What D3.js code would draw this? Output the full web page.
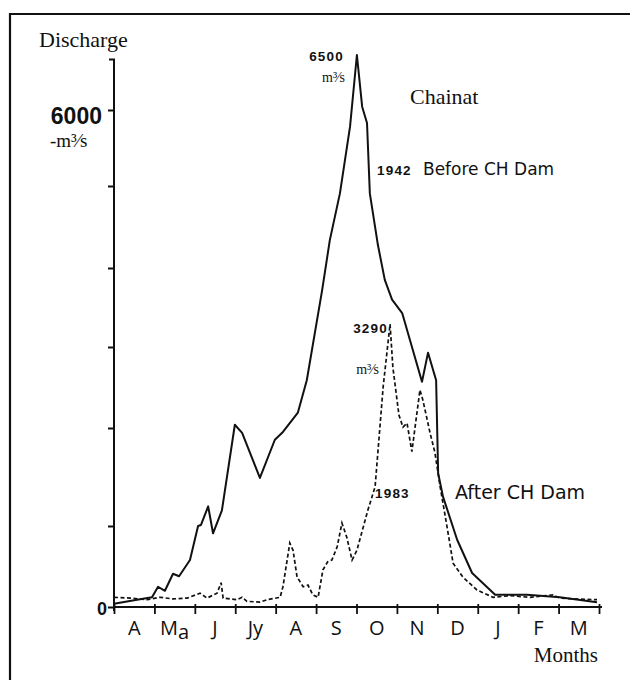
<!DOCTYPE html>
<html>
<head>
<meta charset="utf-8">
<script src="https://cdn.jsdelivr.net/npm/d3@7"></script>
<style>
  body { margin: 0; background: #fff; }
  svg { display: block; }
</style>
</head>
<body>
<div id="chart"></div>
<script>
var w = 630
var h = 680

// months start in April (x = months since 1 April)
var monthLabels = ["A", "Ma", "J", "Jy", "A", "S", "O", "N", "D", "J", "F", "M"]
var yTicks = [0, 1000, 2000, 3000, 4000, 5000, 6000]

// 1942, before CH Dam (solid)
var beforeX = [0, 0.57, 0.94, 1.09, 1.26, 1.46, 1.61, 1.88, 2.08, 2.15, 2.33, 2.45, 2.67, 2.99, 3.17, 3.61, 3.98, 4.18, 4.55, 4.77,
    5.15, 5.34, 5.59, 5.84, 6.01, 6.14, 6.26, 6.33, 6.53, 6.70, 6.88, 7.13, 7.62, 7.77, 7.97, 8.02, 8.14, 8.49, 8.86, 9.43,
    10.22, 11.03, 11.95]
var beforeQ = [40, 90, 120, 250, 200, 410, 380, 580, 1000, 1010, 1200, 910, 1160, 2040, 1950, 1490, 1880, 1960, 2190, 2590,
    3720, 4340, 4910, 5780, 6500, 6030, 5830, 4910, 4280, 3850, 3600, 3430, 2570, 2930, 2590, 1540, 1300, 830, 420, 150,
    150, 120, 60]

// 1983, after CH Dam (dashed)
var afterX = [0, 0.40, 0.82, 1.14, 1.46, 1.81, 2.13, 2.30, 2.55, 2.65, 2.70, 3.04, 3.17, 3.29, 3.61, 3.79, 4.11, 4.18, 4.35, 4.43,
    4.53, 4.68, 4.80, 4.92, 5.05, 5.17, 5.29, 5.39, 5.52, 5.64, 5.76, 5.89, 6.01, 6.28, 6.46, 6.66, 6.83, 6.90, 7.05, 7.15,
    7.25, 7.37, 7.57, 7.64, 7.82, 7.94, 8.07, 8.24, 8.39, 8.63, 8.98, 9.38, 9.80, 10.29, 10.86, 11.03, 11.40, 11.95]
var afterQ = [120, 110, 90, 120, 100, 110, 170, 110, 170, 300, 110, 90, 120, 70, 60, 90, 120, 250, 790, 700,
    370, 250, 270, 150, 120, 460, 560, 580, 740, 1030, 860, 580, 700, 1160, 1400, 2510, 3290, 2750, 2160, 2010,
    2060, 1760, 2470, 2350, 1950, 1750, 1400, 990, 540, 370, 210, 120, 140, 120, 150, 110, 100, 90]

var svg = d3.select("#chart").append("svg").attr("width", w).attr("height", h)

// frame of the scanned page
svg.append("path")
    .attr("d", "M10," + h + " L10,14 L" + w + ",14")
    .attr("fill", "none").attr("stroke", "#111").attr("stroke-width", 2.2)

var x = d3.scaleLinear().domain([0, 12]).range([114, 599])
// hand drawn axis: tick spacing is not even, so the scale follows it
var y = d3.scaleLinear()
    .domain([0, 1000, 2000, 3000, 4000, 5000, 6000, 6500])
    .range([607, 526, 428, 347, 268, 186, 110, 55])

// y axis
var yAxis = svg.append("g")
    .attr("transform", "translate(" + x(0) + ",0)")
    .call(d3.axisLeft(y).tickValues(yTicks).tickSize(6).tickFormat(""))
yAxis.select(".domain").remove()
yAxis.selectAll("line").attr("stroke", "#111").attr("stroke-width", 2)
svg.append("path")
    .attr("d", "M" + (x(0) - 5) + "," + y(6460) + " L" + x(0) + "," + y(6460) + " L" + x(0) + "," + (y(0) + 4))
    .attr("fill", "none").attr("stroke", "#111").attr("stroke-width", 2)

// x axis
var xAxis = svg.append("g")
    .attr("transform", "translate(0," + y(0) + ")")
    .call(d3.axisBottom(x).tickValues(d3.range(0, 13)).tickSize(7).tickSizeOuter(0).tickFormat(""))
xAxis.select(".domain").attr("stroke", "#111").attr("stroke-width", 2)
    .attr("d", "M" + (x(0) - 1) + ",0 H" + (x(12) + 3))
xAxis.selectAll("line").attr("stroke", "#111").attr("stroke-width", 1.8).attr("y1", -3)

svg.selectAll(".month")
    .data(monthLabels)
    .enter()
    .append("text")
    .attr("class", "month")
    .attr("x", function(d, i) { return x(i + 0.5) })
    .attr("y", y(0) + 28)
    .attr("text-anchor", "middle")
    .attr("font-family", "Open Sans")
    .attr("font-size", 20)
    .attr("fill", "#111")
    .each(function(d) {
        var t = d3.select(this)
        if (d == "Ma") {
            t.append("tspan").text("M")
            t.append("tspan").attr("dy", 4).text("a")
        } else {
            t.text(d)
        }
    })

// lines
var line = d3.line()
    .x(function(d) { return x(d[0]) })
    .y(function(d) { return y(d[1]) })

svg.append("path")
    .datum(d3.zip(afterX, afterQ))
    .attr("d", line)
    .attr("fill", "none")
    .attr("stroke", "#111")
    .attr("stroke-width", 1.7)
    .attr("stroke-dasharray", "4,2.5")

svg.append("path")
    .datum(d3.zip(beforeX, beforeQ))
    .attr("d", line)
    .attr("fill", "none")
    .attr("stroke", "#111")
    .attr("stroke-width", 2)
    .attr("stroke-linejoin", "round")

// texts
function label(txt, px, py, font, size, weight, anchor) {
    return svg.append("text")
        .attr("x", px).attr("y", py)
        .attr("font-family", font)
        .attr("font-size", size)
        .attr("font-weight", weight || "normal")
        .attr("text-anchor", anchor || "start")
        .attr("fill", "#111")
        .text(txt)
}
function unit(px, py, size, anchor, prefix) {
    return label((prefix || "") + "m\u00b3\u2044s", px, py, "Liberation Serif", size, "normal", anchor)
}
function bold(txt, px, py, anchor) {
    return label(txt, px, py, "Liberation Sans", 13.5, "bold", anchor)
        .attr("letter-spacing", 1.2)
}

label("Discharge", 39, 47, "Liberation Serif", 22)
label("6000", 102, y(6000) + 14, "Liberation Sans", 23, "bold", "end")
unit(50, y(6000) + 37, 19, "start", "-")
label("0", 107, y(0) + 8, "Liberation Sans", 18, "bold", "end")
label("Months", 598, 662, "Liberation Serif", 21, "normal", "end")

bold("6500", 344, y(6500) + 6, "end")
unit(322, y(6500) + 27, 14)
label("Chainat", 410, 104, "Liberation Serif", 22)
bold("1942", 377, 175)
label("Before CH Dam", 423, 175, "DejaVu Sans", 17)

bold("3290", 388, 333, "end")
unit(379, 374, 14, "end")
bold("1983", 375, 498)
label("After CH Dam", 455, 499, "DejaVu Sans", 19)
</script>
</body>
</html>
